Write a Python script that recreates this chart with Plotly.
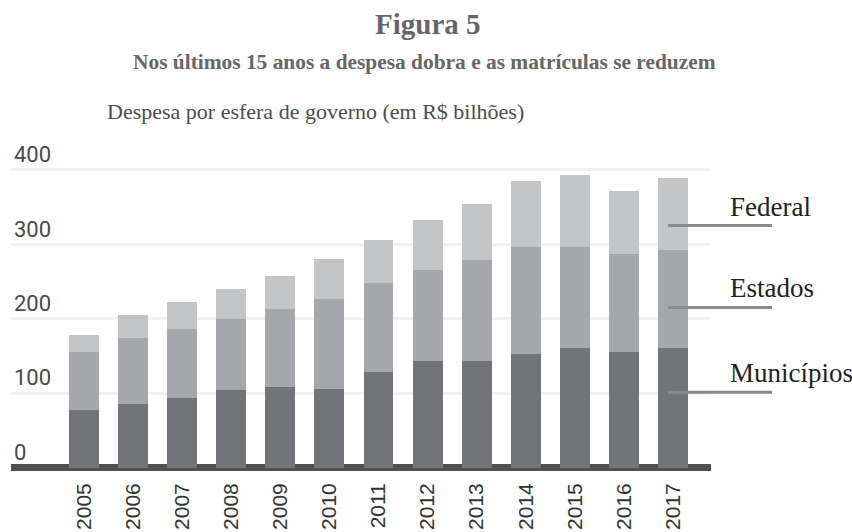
import plotly.graph_objects as go

anos = ["2005", "2006", "2007", "2008", "2009", "2010", "2011",
        "2012", "2013", "2014", "2015", "2016", "2017"]
municipios = [77, 85, 94, 104, 108, 106, 129, 143, 143, 152, 160, 155, 160]
estados = [78, 89, 92, 96, 105, 120, 119, 122, 136, 144, 136, 132, 132]
federal = [23, 31, 36, 40, 44, 54, 58, 67, 75, 89, 97, 85, 97]

series_names = ["Municípios", "Estados", "Federal"]
series_colors = ["#737478", "#a6a7aa", "#c4c5c7"]
# y position (data units) of the label and its leader line
label_y = [127, 241, 350]
line_y = [101, 215, 325]

fig = go.Figure()
for name, vals, col in zip(series_names, [municipios, estados, federal], series_colors):
    fig.add_trace(go.Bar(x=anos, y=vals, name=name, marker=dict(color=col, line=dict(width=0)),
                         hoverinfo="x+y+name"))

W, H = 852, 532
ml, mr, mt, mb = 11, 141, 140, 57
ph = H - mt - mb
pw = W - ml - mr

def py(ypx):
    return (H - mb - ypx) / ph

def px(xpx):
    return (xpx - ml) / pw

SERIF = "Liberation Serif"
annotations = [
    dict(text="<b>Figura 5</b>", x=px(428), y=py(24), xref="paper", yref="paper",
         xanchor="center", yanchor="middle", showarrow=False,
         font=dict(family=SERIF, size=29, color="#666666")),
    dict(text="<b>Nos últimos 15 anos a despesa dobra e as matrículas se reduzem</b>",
         x=px(424), y=py(62), xref="paper", yref="paper",
         xanchor="center", yanchor="middle", showarrow=False,
         font=dict(family=SERIF, size=21.4, color="#666666")),
    dict(text="Despesa por esfera de governo (em R$ bilhões)", x=px(105), y=py(111),
         xref="paper", yref="paper", xanchor="left", yanchor="middle", showarrow=False,
         font=dict(family=SERIF, size=22, color="#4d4d4d")),
]
shapes = []
for name, ly, lny in zip(series_names, label_y, line_y):
    annotations.append(dict(text=name, x=px(728), y=ly, xref="paper", yref="y",
                            xanchor="left", yanchor="middle", showarrow=False,
                            font=dict(family=SERIF, size=27, color="#222222")))
    shapes.append(dict(type="line", xref="paper", yref="y", x0=px(668), x1=px(772),
                       y0=lny, y1=lny, line=dict(color="#8a8b8d", width=3), layer="above"))

fig.update_layout(
    width=W, height=H,
    margin=dict(l=ml, r=mr, t=mt, b=mb, pad=0),
    barmode="stack", bargap=0.39,
    plot_bgcolor="white", paper_bgcolor="white",
    showlegend=False,
    annotations=annotations, shapes=shapes,
    xaxis=dict(type="category", range=[-1.487, 12.775], tickangle=-90,
               showgrid=False, ticks="", showline=False, automargin=False,
               ticklabelstandoff=3,
               tickfont=dict(family="Liberation Sans", size=21, color="#333333")),
    yaxis=dict(range=[-10, 440], tickvals=[0, 100, 200, 300, 400],
               showgrid=True, gridcolor="#f1f2f2", gridwidth=3, automargin=False,
               zeroline=True, zerolinecolor="#4f5052", zerolinewidth=7,
               ticklabelposition="inside top", ticks="", showline=False,
               tickfont=dict(family="Roboto", size=22, color="#4a4a4a")),
)

fig.write_html("out.html", config={"displayModeBar": False},
               post_script="document.body.style.margin='0px';")
